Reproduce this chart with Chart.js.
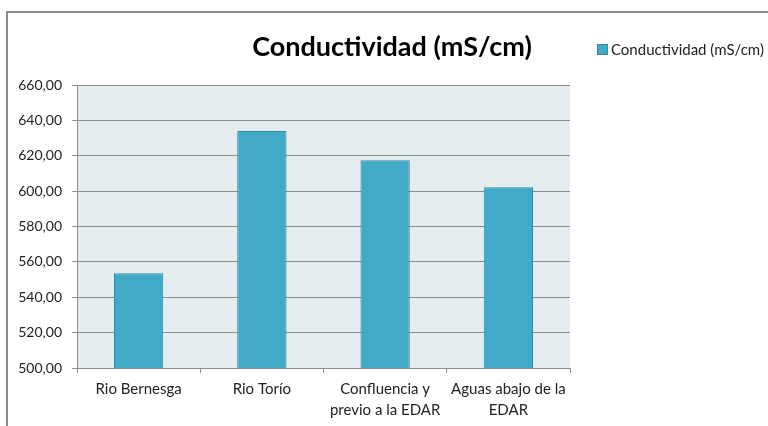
<!DOCTYPE html>
<html>
<head>
<meta charset="utf-8">
<script src="https://cdn.jsdelivr.net/npm/chart.js@4/dist/chart.umd.min.js"></script>
<style>
  html, body { margin: 0; padding: 0; background: #fff; }
  #wrap { position: relative; width: 768px; height: 426px; }
  canvas { display: block; }
</style>
</head>
<body>
<div id="wrap"><canvas id="c" width="768" height="426"></canvas></div>
<script>
const chartTitle = 'Conductividad (mS/cm)';
const seriesName = 'Conductividad (mS/cm)';
const categories = [
  'Rio Bernesga',
  'Rio Torío',
  ['Confluencia y', 'previo a la EDAR'],
  ['Aguas abajo de la', 'EDAR']
];
const conductividad = [553.6, 634.0, 617.4, 602.2];
const yMin = 500, yMax = 660, yStep = 20;

const FONT = 'Lato, "Open Sans", sans-serif';

const decor = {
  id: 'decor',
  beforeDraw(chart) {
    const { ctx, chartArea: a } = chart;
    ctx.save();
    ctx.fillStyle = '#E5ECF0';
    ctx.fillRect(a.left, a.top, a.right - a.left, a.bottom - a.top);
    ctx.restore();
  },
  afterDraw(chart) {
    const ctx = chart.ctx;
    ctx.save();
    // outer frame
    ctx.strokeStyle = '#8c8c8c';
    ctx.lineWidth = 2;
    ctx.beginPath();
    ctx.moveTo(7, 426);
    ctx.lineTo(7, 12);
    ctx.lineTo(768, 12);
    ctx.stroke();
    // title
    ctx.fillStyle = '#000';
    ctx.font = 'bold 27px ' + FONT;
    ctx.textAlign = 'center';
    ctx.textBaseline = 'middle';
    ctx.fillText(chartTitle, 392, 47);
    // legend
    const ds = chart.data.datasets[0];
    ctx.fillStyle = ds.backgroundColor;
    ctx.fillRect(597, 44, 11, 11);
    ctx.strokeStyle = ds.borderColor;
    ctx.lineWidth = 1;
    ctx.strokeRect(597.5, 44.5, 10, 10);
    ctx.fillStyle = '#222';
    ctx.font = '15px ' + FONT;
    ctx.textAlign = 'left';
    ctx.fillText(ds.label, 611, 50);
    ctx.restore();
  }
};

new Chart(document.getElementById('c'), {
  type: 'bar',
  data: {
    labels: categories,
    datasets: [{
      label: seriesName,
      data: conductividad,
      backgroundColor: '#41AAC6',
      borderColor: '#2C8CA6',
      borderWidth: 1,
      categoryPercentage: 1,
      barPercentage: 0.4
    }]
  },
  options: {
    responsive: false,
    animation: false,
    layout: { padding: { left: 10, right: 198, top: 85, bottom: 0 } },
    plugins: { legend: { display: false }, title: { display: false }, tooltip: { enabled: false } },
    scales: {
      x: {
        afterFit(s) { s.height = 58; },
        border: { color: '#8c8c8c', width: 1 },
        grid: { display: true, drawOnChartArea: false, drawTicks: true, tickLength: 5, color: '#8c8c8c' },
        ticks: { color: '#222', font: { family: FONT, size: 15, lineHeight: 1.4 }, padding: 6, maxRotation: 0, autoSkip: false }
      },
      y: {
        min: yMin, max: yMax,
        afterFit(s) { s.width = 67; },
        border: { color: '#8c8c8c', width: 1 },
        grid: { color: '#8c8c8c', tickLength: 5, lineWidth: 1 },
        ticks: {
          stepSize: yStep,
          color: '#222',
          padding: 10,
          font: { family: FONT, size: 14 },
          callback: v => v.toFixed(2).replace('.', ',')
        }
      }
    }
  },
  plugins: [decor]
});
</script>
</body>
</html>
